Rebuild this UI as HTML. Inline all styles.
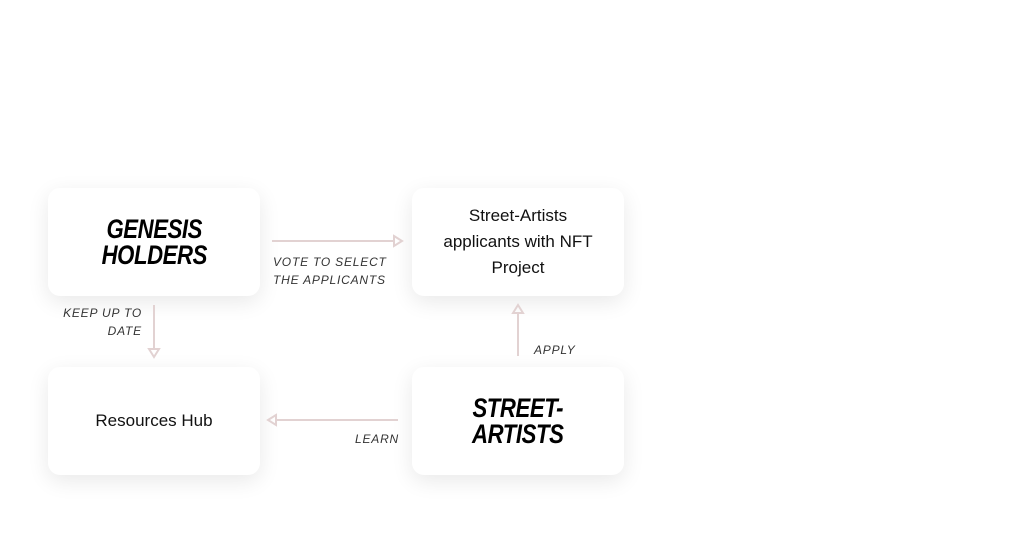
<!DOCTYPE html>
<html><head><style>
html,body{margin:0;padding:0;background:#fff;width:1032px;height:548px;overflow:hidden;position:relative;font-family:"Liberation Sans",sans-serif}
.box{position:absolute;width:212px;height:108px;background:#fff;border-radius:12px;box-shadow:0 6px 22px rgba(0,0,0,0.09);display:flex;align-items:center;justify-content:center;text-align:center}
.big{font-weight:bold;font-style:italic;font-size:27px;line-height:26px;transform:scaleX(0.82);letter-spacing:-0.5px;color:#000}
.reg{font-size:17px;line-height:26px;color:#111}
.lbl{position:absolute;font-style:italic;font-size:12px;line-height:18px;color:#333;letter-spacing:0.8px}
svg{position:absolute;left:0;top:0}
</style></head><body>
<div class="box" style="left:48px;top:188px"><div class="big">GENESIS<br>HOLDERS</div></div>
<div class="box" style="left:412px;top:188px"><div class="reg">Street-Artists<br>applicants with NFT<br>Project</div></div>
<div class="box" style="left:48px;top:367px"><div class="reg">Resources Hub</div></div>
<div class="box" style="left:412px;top:367px"><div class="big">STREET-<br>ARTISTS</div></div>
<svg width="1032" height="548" fill="none" stroke="#e2d2d2" stroke-width="2">
<line x1="272" y1="241" x2="394" y2="241"/><path d="M394 236 L402 241 L394 246 Z"/>
<line x1="154" y1="305" x2="154" y2="349"/><path d="M149 349 L154 357 L159 349 Z"/>
<line x1="518" y1="356" x2="518" y2="313"/><path d="M513 313 L518 305 L523 313 Z"/>
<line x1="398" y1="420" x2="276" y2="420"/><path d="M276 415 L268 420 L276 425 Z"/>
</svg>
<div class="lbl" style="left:273px;top:253px">VOTE TO SELECT<br>THE APPLICANTS</div>
<div class="lbl" style="left:60px;top:304px;width:82px;text-align:right">KEEP UP TO<br>DATE</div>
<div class="lbl" style="left:534px;top:341px">APPLY</div>
<div class="lbl" style="left:355px;top:430px">LEARN</div>
</body></html>
